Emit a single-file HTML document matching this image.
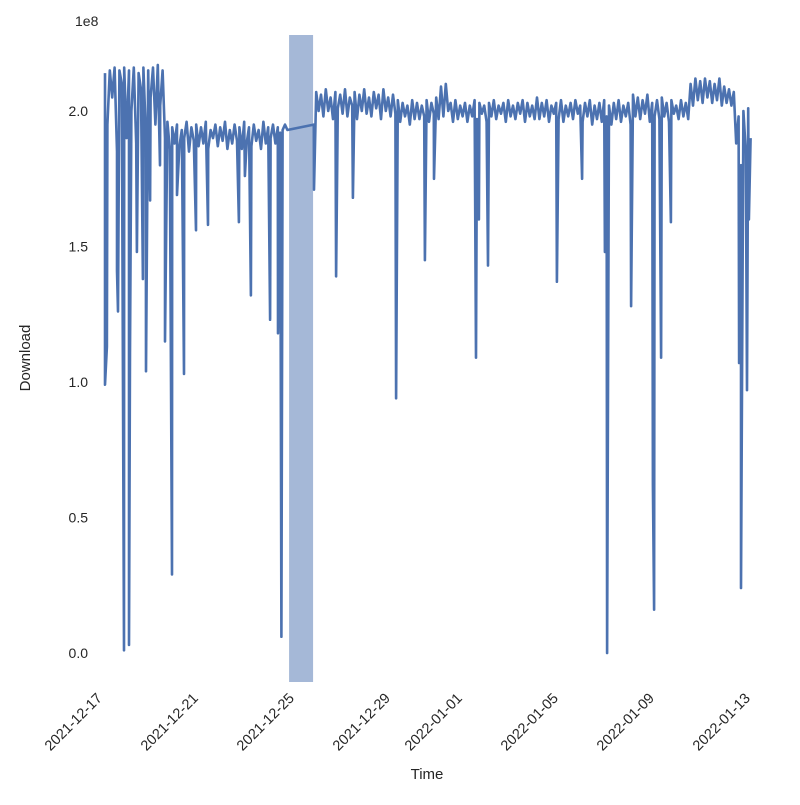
<!DOCTYPE html>
<html><head><meta charset="utf-8"><style>
html,body{margin:0;padding:0;background:#fff;}
svg text{font-family:"Liberation Sans","DejaVu Sans",sans-serif;fill:#262626;}
</style></head><body>
<svg id="chart" width="800" height="800" xmlns="http://www.w3.org/2000/svg">
<rect x="0" y="0" width="800" height="800" fill="#fff"/>
<g id="plot"></g>
<g id="xaxis"></g>
<g id="yaxis"></g>
<text x="75" y="26" font-size="14">1e8</text>
<text x="427" y="779" font-size="15" text-anchor="middle">Time</text>
<text transform="translate(30,358) rotate(-90)" font-size="15" text-anchor="middle">Download</text>
</svg>
<script>
// Days since 2021-12-17 00:00; values in units of 1e8
const startDay = 0;
const stepDay = 0.1;
const baseValues = [
2.14,1.95,2.15,2.05,2.16,1.85,2.15,2.10,2.16,1.90,
2.15,2.00,2.16,1.88,2.14,2.08,2.16,1.92,2.15,2.05,
2.16,1.95,2.17,2.02,2.15,1.90,1.96,1.86,1.94,1.88,
1.95,1.87,1.93,1.90,1.96,1.85,1.94,1.89,1.95,1.87,
1.94,1.88,1.96,1.86,1.93,1.90,1.95,1.87,1.94,1.89,
1.96,1.86,1.93,1.88,1.95,1.89,1.94,1.86,1.96,1.88,
1.94,1.87,1.95,1.89,1.93,1.86,1.96,1.88,1.94,1.90,
1.95,1.88,1.94,1.92,1.93,1.95,1.93,null,null,null,
null,null,null,null,null,null,null,1.95,2.07,2.00,
2.06,1.98,2.08,2.00,2.05,1.97,2.07,2.01,2.06,1.99,
2.08,1.98,2.05,2.02,2.07,1.97,2.06,2.00,2.08,1.99,
2.05,1.98,2.07,2.01,2.06,1.97,2.08,2.00,2.05,1.98,
2.06,1.99,2.04,1.96,2.03,1.98,2.02,1.95,2.04,1.97,
2.03,1.97,2.02,1.98,2.04,1.96,2.03,1.99,2.05,1.97,
2.09,1.98,2.10,2.00,2.03,1.96,2.04,1.97,2.02,1.98,
2.03,1.96,2.02,1.98,2.04,1.97,2.03,1.99,2.02,1.96,
2.03,1.98,2.04,1.97,2.02,1.99,2.03,1.96,2.04,1.98,
2.02,1.97,2.03,1.99,2.04,1.96,2.03,1.98,2.02,1.97,
2.05,1.97,2.03,1.98,2.04,1.96,2.02,1.99,2.03,1.97,
2.04,1.96,2.02,1.98,2.03,1.97,2.04,1.99,2.02,1.96,
2.03,1.98,2.04,1.95,2.02,1.97,2.03,1.96,2.04,1.98,
2.02,1.95,2.03,1.97,2.04,1.96,2.02,1.98,2.03,1.95,
2.06,1.98,2.05,1.97,2.04,1.99,2.06,1.96,2.03,1.98,
2.04,1.97,2.05,1.98,2.03,1.96,2.04,1.99,2.02,1.97,
2.04,1.98,2.03,1.97,2.10,2.02,2.12,2.04,2.11,2.03,
2.12,2.05,2.11,2.03,2.10,2.04,2.12,2.02,2.09,2.03,
2.08,2.02,2.07,1.88,1.98,1.80,2.00,1.85,2.01,1.90
];
const dipDays = [0.0,0.08,0.5,0.54,0.79,1.0,1.04,1.33,1.58,1.71,1.88,2.29,2.5,2.79,3.0,3.29,3.79,4.29,5.58,5.83,6.08,6.88,7.21,7.35,8.71,9.63,10.33,12.13,13.33,13.71,15.46,15.58,15.96,18.83,19.88,20.83,20.92,21.92,22.83,22.88,23.17,23.58,26.42,26.5,26.75,26.83];
const dipValues = [0.99,1.13,1.41,1.26,0.01,0.03,1.11,1.48,1.38,1.04,1.67,1.80,1.15,0.29,1.69,1.03,1.56,1.58,1.59,1.76,1.32,1.23,1.18,0.06,1.71,1.39,1.68,0.94,1.45,1.75,1.09,1.60,1.43,1.37,1.75,1.48,0.00,1.28,0.62,0.16,1.09,1.59,1.07,0.24,0.97,1.60];
const spanStart = 7.67, spanEnd = 8.67;
const xTickDays = [0,4,8,12,15,19,23,27];
const xTickLabels = ["2021-12-17","2021-12-21","2021-12-25","2021-12-29","2022-01-01","2022-01-05","2022-01-09","2022-01-13"];
const yTicks = [0,0.5,1.0,1.5,2.0];
const yTickLabels = ["0.0","0.5","1.0","1.5","2.0"];

const NS="http://www.w3.org/2000/svg";
const plotTop=35, plotBottom=682;
function xScale(d){return 105+24*d;}
function yScale(v){return 653-v*271;}
function mk(tag,attrs,parent){const e=document.createElementNS(NS,tag);for(const k in attrs)e.setAttribute(k,attrs[k]);parent.appendChild(e);return e;}

const plot=document.getElementById('plot');
const span=mk('rect',{x:xScale(spanStart),y:plotTop,width:xScale(spanEnd)-xScale(spanStart),height:plotBottom-plotTop,fill:'#4c72b0','fill-opacity':0.5},plot);



const pts=[];
baseValues.forEach((v,i)=>{if(v!==null)pts.push([startDay+i*stepDay,v]);});
dipDays.forEach((d,i)=>pts.push([d,dipValues[i]]));
pts.sort((a,b)=>a[0]-b[0]);
const line=mk('polyline',{points:pts.map(p=>xScale(p[0]).toFixed(1)+','+yScale(p[1]).toFixed(1)).join(' '),fill:'none',stroke:'#4c72b0','stroke-width':2.6,'stroke-linejoin':'round'},plot);



const xa=document.getElementById('xaxis');
xTickDays.forEach((d,i)=>{
  const tx=xScale(d)-2, ty=699;
  const t=mk('text',{transform:`translate(${tx},${ty}) rotate(-45)`,'font-size':14.5,'text-anchor':'end'},xa);
  t.textContent=xTickLabels[i];
  
  
});
const ya=document.getElementById('yaxis');
yTicks.forEach((v,i)=>{
  const t=mk('text',{x:88,y:yScale(v)+5,'font-size':14,'text-anchor':'end'},ya);
  t.textContent=yTickLabels[i];
  
  
});
</script>
</body></html>
